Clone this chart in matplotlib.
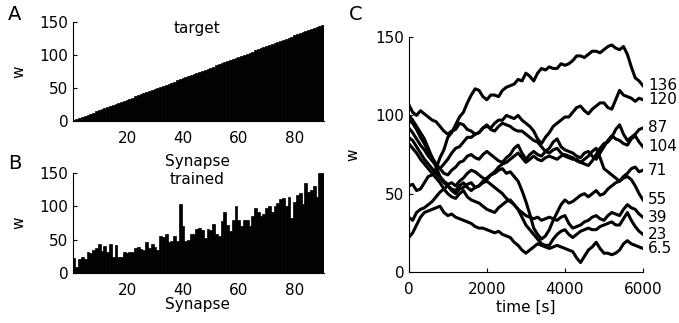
import matplotlib
matplotlib.use("Agg")
import matplotlib.pyplot as plt

plt.rcParams['font.family'] = ['DejaVu Sans']

# A: target weights per synapse
synapse = list(range(1, 91))
target_w = [1.6, 3.2, 4.9, 6.5, 8.1, 9.7, 11.3, 13.0, 14.6, 16.2,
            17.8, 19.4, 21.1, 22.7, 24.3, 25.9, 27.5, 29.2, 30.8, 32.4,
            34.0, 35.6, 37.3, 38.9, 40.5, 42.1, 43.7, 45.4, 47.0, 48.6,
            50.2, 51.8, 53.5, 55.1, 56.7, 58.3, 59.9, 61.6, 63.2, 64.8,
            66.4, 68.0, 69.7, 71.3, 72.9, 74.5, 76.1, 77.8, 79.4, 81.0,
            82.6, 84.2, 85.9, 87.5, 89.1, 90.7, 92.3, 94.0, 95.6, 97.2,
            98.8, 100.4, 102.1, 103.7, 105.3, 106.9, 108.5, 110.2, 111.8, 113.4,
            115.0, 116.6, 118.3, 119.9, 121.5, 123.1, 124.7, 126.4, 128.0, 129.6,
            131.2, 132.8, 134.5, 136.1, 137.7, 139.3, 140.9, 142.6, 144.2, 145.8]

# B: trained weights per synapse
trained_w = [23, 10, 22, 24, 22, 31, 30, 34, 38, 44,
             33, 40, 32, 44, 24, 42, 24, 25, 32, 30,
             31, 32, 38, 39, 36, 35, 47, 38, 44, 39,
             34, 55, 54, 59, 47, 48, 55, 48, 103, 70,
             48, 49, 58, 59, 66, 68, 65, 53, 66, 65,
             73, 58, 55, 78, 92, 72, 63, 80, 101, 80,
             70, 80, 80, 70, 85, 98, 92, 86, 88, 98,
             100, 92, 101, 105, 111, 113, 101, 114, 82, 107,
             117, 120, 103, 135, 122, 125, 130, 114, 150, 150]

# C: weight traces over time (every 100 s), labelled by target value
time_s = list(range(0, 6001, 100))
trace_labels = ['136', '120', '87', '104', '71', '55', '39', '23', '6.5']
w136 = [55, 56, 52, 53, 57, 61, 62, 66, 73, 78, 86, 89, 94, 99, 102, 108, 113, 117, 116, 112,
        110, 113, 113, 112, 116, 118, 119, 120, 123, 122, 127, 125, 122, 127, 130, 129, 131, 130, 130, 133,
        132, 133, 135, 138, 138, 137, 139, 141, 141, 140, 142, 144, 145, 143, 142, 144, 139, 131, 124, 122,
        119]
w120 = [107, 102, 100, 103, 101, 99, 97, 96, 93, 90, 88, 90, 91, 95, 94, 91, 90, 88, 89, 92,
        93, 92, 95, 97, 97, 100, 99, 98, 100, 97, 95, 93, 90, 85, 82, 86, 89, 93, 95, 97,
        99, 99, 102, 105, 106, 103, 101, 104, 106, 108, 108, 105, 104, 110, 116, 113, 112, 111, 109, 111,
        110]
w87 = [97, 95, 91, 86, 82, 77, 73, 69, 66, 69, 72, 76, 79, 80, 83, 86, 86, 88, 89, 92,
       94, 91, 90, 93, 95, 94, 93, 91, 90, 90, 88, 86, 84, 83, 80, 77, 76, 78, 79, 76,
       74, 73, 72, 72, 70, 69, 68, 71, 75, 79, 82, 83, 86, 91, 94, 88, 84, 86, 88, 91,
       92]
w104 = [92, 89, 85, 81, 78, 74, 71, 68, 66, 63, 62, 65, 67, 70, 71, 74, 75, 73, 72, 75,
        77, 75, 73, 71, 70, 73, 75, 79, 81, 76, 72, 75, 77, 75, 74, 77, 79, 83, 85, 80,
        78, 77, 76, 74, 73, 76, 77, 74, 72, 76, 80, 84, 87, 85, 84, 82, 81, 85, 87, 83,
        80]
w71 = [100, 97, 93, 89, 85, 79, 73, 67, 61, 58, 56, 57, 55, 58, 60, 63, 65, 64, 62, 60,
       59, 62, 64, 67, 69, 70, 72, 74, 76, 73, 70, 72, 74, 72, 71, 73, 74, 73, 72, 74,
       75, 74, 73, 71, 70, 72, 74, 77, 79, 73, 66, 64, 62, 60, 58, 61, 63, 66, 67, 64,
       65]
w55 = [86, 84, 80, 76, 72, 69, 66, 63, 60, 57, 55, 52, 50, 53, 54, 56, 57, 54, 55, 58,
       60, 62, 63, 65, 66, 63, 64, 61, 58, 52, 45, 37, 28, 24, 21, 23, 27, 33, 38, 43,
       46, 44, 45, 47, 49, 50, 48, 50, 52, 49, 50, 53, 55, 57, 58, 60, 61, 59, 55, 50,
       46]
w39 = [82, 79, 76, 72, 69, 66, 63, 60, 57, 53, 50, 48, 47, 50, 52, 48, 46, 45, 44, 42,
       40, 39, 38, 41, 43, 45, 46, 43, 40, 38, 36, 35, 34, 35, 33, 34, 35, 34, 33, 35,
       36, 31, 28, 29, 30, 32, 33, 35, 36, 34, 33, 36, 38, 37, 36, 40, 43, 41, 40, 37,
       35]
w23 = [35, 33, 38, 40, 41, 43, 45, 48, 51, 53, 55, 53, 52, 55, 57, 54, 52, 54, 55, 57,
       58, 56, 54, 52, 50, 47, 45, 43, 40, 35, 30, 27, 24, 21, 18, 17, 17, 21, 24, 26,
       27, 24, 22, 24, 26, 27, 28, 27, 27, 29, 30, 31, 32, 30, 30, 34, 38, 33, 29, 26,
       24]
w6 = [22, 25, 30, 35, 38, 39, 40, 41, 42, 38, 36, 37, 35, 34, 33, 32, 31, 29, 28, 28,
      27, 26, 25, 26, 24, 23, 22, 19, 17, 14, 12, 14, 16, 18, 17, 16, 15, 16, 17, 16,
      15, 14, 13, 9, 6, 10, 14, 16, 19, 15, 12, 12, 11, 12, 14, 18, 20, 18, 17, 16,
      15]
traces = [w136, w120, w87, w104, w71, w55, w39, w23, w6]

fs = 11

fig = plt.figure(figsize=(6.79, 3.23), dpi=100)
axA = fig.add_axes([0.107, 0.625, 0.370, 0.307])
axB = fig.add_axes([0.107, 0.154, 0.370, 0.311])
axC = fig.add_axes([0.602, 0.158, 0.345, 0.727])


def style(ax):
    for s in ['top', 'right']:
        ax.spines[s].set_visible(False)
    ax.tick_params(direction='in', length=3, labelsize=fs, pad=3)
    ax.tick_params(axis='x', pad=7)


for ax, vals, title in [(axA, target_w, 'target'), (axB, trained_w, 'trained')]:
    ax.bar(synapse, vals, width=1.0, color='k', edgecolor='k', linewidth=0.5)
    ax.set_xlim(0.5, 90.5)
    ax.set_ylim(0, 150)
    ax.set_xticks([20, 40, 60, 80])
    ax.set_yticks([0, 50, 100, 150])
    style(ax)
    ax.text(0.495, 0.93, title, transform=ax.transAxes, ha='center', va='center', fontsize=fs)

axA.text(0.495, -0.41, 'Synapse', transform=axA.transAxes, ha='center', va='center', fontsize=fs)
axB.text(0.495, -0.315, 'Synapse', transform=axB.transAxes, ha='center', va='center', fontsize=fs)
axA.text(-0.215, 0.5, 'w', transform=axA.transAxes, ha='center', va='center', rotation=90, fontsize=fs)
axB.text(-0.215, 0.5, 'w', transform=axB.transAxes, ha='center', va='center', rotation=90, fontsize=fs)

for vals, lab in zip(traces, trace_labels):
    axC.plot(time_s, vals, color='k', linewidth=2.2)
    axC.annotate(lab, xy=(time_s[-1], vals[-1]), xytext=(3.5, 0), textcoords='offset points',
                 ha='left', va='center', fontsize=fs, annotation_clip=False)
axC.set_xlim(0, 6000)
axC.set_ylim(0, 150)
axC.set_xticks([0, 2000, 4000, 6000])
axC.set_yticks([0, 50, 100, 150])
style(axC)
axC.text(0.5, -0.149, 'time [s]', transform=axC.transAxes, ha='center', va='center', fontsize=fs)
axC.text(-0.239, 0.5, 'w', transform=axC.transAxes, ha='center', va='center', rotation=90, fontsize=fs)

fig.text(15 / 679, 1 - 15 / 323, 'A', ha='center', va='center', fontsize=14)
fig.text(15 / 679, 1 - 163 / 323, 'B', ha='center', va='center', fontsize=14)
fig.text(356 / 679, 1 - 14 / 323, 'C', ha='center', va='center', fontsize=14)

fig.savefig('out.png', dpi=100)
